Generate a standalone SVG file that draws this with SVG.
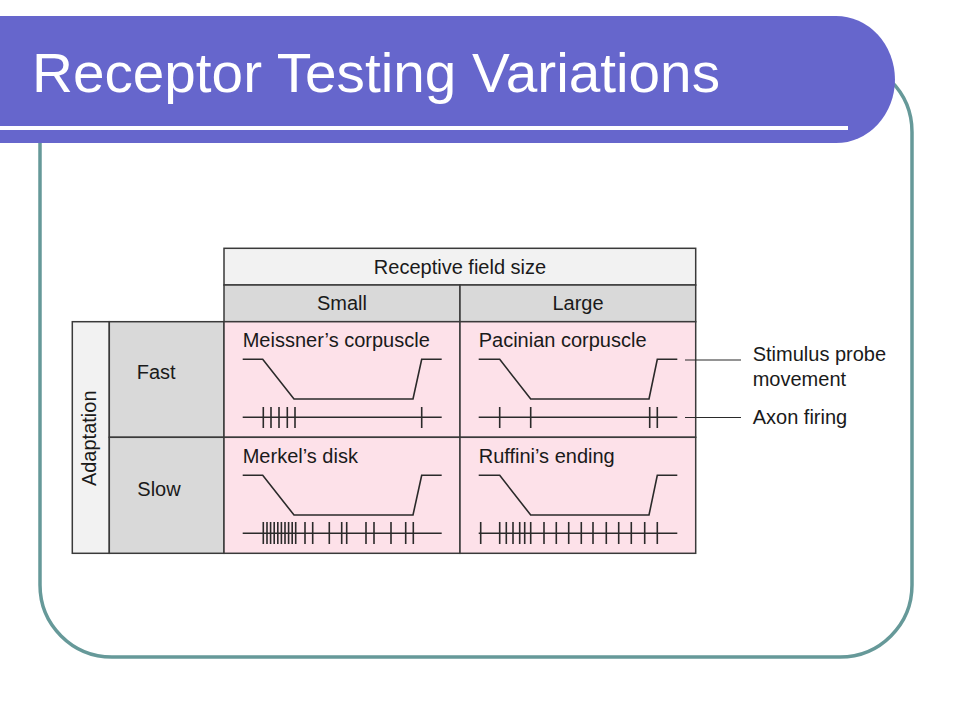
<svg xmlns="http://www.w3.org/2000/svg" width="960" height="720" viewBox="0 0 960 720">
<defs>
<style>
.t{font-family:"Liberation Sans",Arial,Helvetica,sans-serif;font-size:20px;fill:#1a1a1a}
.cell{stroke:#3a3a3a;stroke-width:1.5}
.lt{fill:#f2f2f2}
.gr{fill:#d9d9d9}
.pk{fill:#fde1e9}
.tr{fill:none;stroke:#2a2a2a;stroke-width:1.6;stroke-linejoin:miter}
.sp{stroke:#2a2a2a;stroke-width:1.6}
.ld{stroke:#2a2a2a;stroke-width:1.2}
</style>
</defs>
<rect width="960" height="720" fill="#ffffff"/>
<g id="frame">
<rect x="40" y="60" width="872" height="597" rx="72" ry="72" fill="none" stroke="#669999" stroke-width="3.5"/>
</g>
<g id="title-bar">
<path d="M0,16 H836 A59,63.5 0 0 1 836,143 H0 Z" fill="#6666cc"/>
<rect x="0" y="126" width="848" height="4" fill="#ffffff"/>
<text x="32" y="92" font-family="Liberation Sans,Arial,sans-serif" font-size="55" fill="#ffffff" textLength="688" lengthAdjust="spacingAndGlyphs">Receptor Testing Variations</text>
</g>
<g id="table">
<g id="header-top">
<rect class="cell lt" x="224" y="248.3" width="471.7" height="36.7"/>
<text class="t" x="460" y="274.3" text-anchor="middle">Receptive field size</text>
</g>
<g id="header-small">
<rect class="cell gr" x="224" y="285" width="236" height="36.7"/>
<text class="t" x="342" y="310" text-anchor="middle">Small</text>
</g>
<g id="header-large">
<rect class="cell gr" x="460" y="285" width="235.7" height="36.7"/>
<text class="t" x="578" y="310" text-anchor="middle">Large</text>
</g>
<g id="adaptation">
<rect class="cell lt" x="72.3" y="321.7" width="37" height="231.6"/>
<text class="t" transform="translate(96,438.3) rotate(-90)" text-anchor="middle">Adaptation</text>
</g>
<g id="row-fast">
<rect class="cell gr" x="109.3" y="321.7" width="114.7" height="115.6"/>
<text class="t" x="136.7" y="379.3">Fast</text>
</g>
<g id="row-slow">
<rect class="cell gr" x="109.3" y="437.3" width="114.7" height="116"/>
<text class="t" x="137.3" y="496">Slow</text>
</g>
<g id="meissner">
<rect class="cell pk" x="224" y="321.7" width="236" height="115.6"/>
<text class="t" x="242.7" y="347.3">Meissner&#8217;s corpuscle</text>
<polyline class="tr" points="242.7,359.3 262.7,359.3 294,399 413,399 421.7,359.3 441.7,359.3"/>
<line class="sp" x1="242.7" y1="417.3" x2="441.7" y2="417.3"/>
<path class="sp" d="M263.3,407V428M271,407V428M279,407V428M287.3,407V428M295,407V428M421.7,407V428"/>
</g>
<g id="pacinian">
<rect class="cell pk" x="460" y="321.7" width="235.7" height="115.6"/>
<text class="t" x="478.7" y="347.3">Pacinian corpuscle</text>
<polyline class="tr" points="478.7,359.3 499.7,359.3 530.7,399 649,399 657.3,359.3 677.3,359.3"/>
<line class="sp" x1="478.7" y1="417.3" x2="677.3" y2="417.3"/>
<path class="sp" d="M499.7,407V428M530.7,407V428M649.7,407V428M657.3,407V428"/>
</g>
<g id="merkel">
<rect class="cell pk" x="224" y="437.3" width="236" height="116"/>
<text class="t" x="242.7" y="463.3">Merkel&#8217;s disk</text>
<polyline class="tr" points="242.7,475.3 262.7,475.3 294,515 413,515 421.7,475.3 441.7,475.3"/>
<line class="sp" x1="242.7" y1="533.3" x2="441.7" y2="533.3"/>
<path class="sp" d="M263.3,522V544M267,522V544M270.6,522V544M274.2,522V544M277.8,522V544M281.4,522V544M285,522V544M288.6,522V544M292.2,522V544M295.7,522V544M305,522V544M312.7,522V544M329.3,522V544M341.7,522V544M346.7,522V544M366,522V544M374,522V544M391,522V544M405.7,522V544M413.3,522V544"/>
</g>
<g id="ruffini">
<rect class="cell pk" x="460" y="437.3" width="235.7" height="116"/>
<text class="t" x="478.7" y="463.3">Ruffini&#8217;s ending</text>
<polyline class="tr" points="478.7,475.3 499.7,475.3 530.7,515 649,515 657.3,475.3 677.3,475.3"/>
<line class="sp" x1="478.7" y1="533.3" x2="677.3" y2="533.3"/>
<path class="sp" d="M480.7,522V544M499.7,522V544M506.3,522V544M513,522V544M519.7,522V544M524.7,522V544M530.7,522V544M544,522V544M556.3,522V544M568.7,522V544M581.3,522V544M593,522V544M606.3,522V544M618.7,522V544M631.3,522V544M644.7,522V544M657.3,522V544"/>
</g>
</g>
<g id="connectors">
<line class="ld" x1="685" y1="360" x2="741" y2="360"/>
<line class="ld" x1="685" y1="417.5" x2="741" y2="417.5"/>
</g>
<g id="legend-stimulus">
<text class="t" x="752.7" y="361">Stimulus probe</text>
<text class="t" x="752.7" y="386">movement</text>
</g>
<g id="legend-axon">
<text class="t" x="752.7" y="424">Axon firing</text>
</g>
</svg>
